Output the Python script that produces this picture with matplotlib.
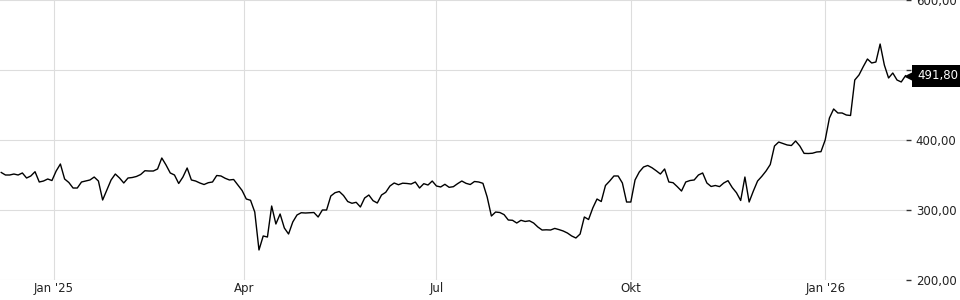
import numpy as np
import pandas as pd
import matplotlib
matplotlib.use('Agg')
import matplotlib.pyplot as plt
import matplotlib.transforms as mtransforms
from matplotlib.ticker import FuncFormatter

# Price series, one reading every second day starting 2024-12-07
start_date = '2024-12-07'
prices = [
    353.6, 350.0, 350.0, 351.4, 350.0, 352.9, 345.7, 348.6, 354.7, 340.0,
    341.4, 344.3, 342.1, 355.7, 365.7, 344.3, 339.3, 331.4, 331.4, 340.0,
    341.4, 342.9, 347.1, 341.4, 314.3, 328.6, 342.9, 351.4, 345.7, 338.6,
    345.7, 346.4, 347.9, 350.7, 356.1, 355.7, 355.7, 358.6, 374.3, 364.3,
    352.9, 350.0, 337.9, 347.1, 360.0, 342.9, 341.4, 338.6, 336.4, 339.0,
    340.0, 349.3, 348.6, 345.3, 342.9, 343.6, 335.7, 327.9, 315.7, 313.9,
    297.1, 242.9, 262.9, 261.4, 305.7, 280.0, 294.3, 274.3, 265.7, 282.9,
    292.9, 296.1, 295.7, 296.1, 296.4, 290.0, 300.0, 300.0, 320.0, 324.7,
    326.4, 320.7, 312.1, 309.6, 311.0, 304.3, 317.1, 321.4, 313.3, 310.0,
    321.4, 325.3, 334.3, 338.6, 336.1, 338.3, 337.9, 337.1, 340.0, 331.4,
    337.6, 335.7, 341.4, 334.3, 332.9, 336.7, 332.4, 333.3, 337.6, 341.4,
    338.1, 336.4, 340.7, 340.0, 338.1, 318.6, 291.4, 297.1, 296.4, 293.4,
    285.7, 285.3, 281.4, 285.3, 283.6, 284.6, 281.4, 275.7, 271.4, 271.7,
    271.4, 273.7, 272.0, 270.0, 267.1, 262.9, 260.0, 265.7, 290.0, 286.4,
    302.9, 315.7, 312.1, 335.0, 341.4, 348.6, 348.6, 338.6, 311.4, 311.4,
    342.9, 354.3, 361.4, 363.6, 360.4, 356.1, 351.4, 358.6, 340.0, 339.0,
    333.3, 327.1, 340.0, 342.1, 342.9, 350.0, 352.9, 338.6, 333.6, 335.0,
    333.4, 338.6, 341.9, 332.1, 324.7, 313.6, 347.1, 311.4, 327.1, 341.4,
    348.1, 355.7, 365.0, 391.4, 397.1, 395.0, 392.9, 392.1, 398.6, 391.4,
    380.9, 380.7, 381.1, 382.9, 383.3, 400.0, 431.4, 444.3, 438.6, 438.6,
    435.7, 435.0, 485.7, 492.9, 504.7, 515.7, 510.0, 511.4, 537.1, 507.1,
    488.6, 495.7, 485.7, 482.9, 491.8,
]
last_label = '491,80'

tick_dates = ['2025-01-01', '2025-04-01', '2025-07-01', '2025-10-01', '2026-01-01']
tick_labels = ["Jan '25", 'Apr', 'Jul', 'Okt', "Jan '26"]
y_ticks = [200, 300, 400, 500, 600]

dates = pd.date_range(start_date, periods=len(prices), freq='2D')

fig = plt.figure(figsize=(9.6, 3.0), dpi=100)
ax = fig.add_axes([0.0, 20 / 300, 906 / 960, 280 / 300])

ax.plot(dates, prices, color='black', linewidth=1.0, zorder=3)

ax.set_xlim(pd.Timestamp('2024-12-06 10:00'), pd.Timestamp('2026-02-08 06:00'))
ax.set_ylim(200, 600)

ax.set_xticks(pd.to_datetime(tick_dates))
ax.set_xticklabels(tick_labels)
ax.set_yticks(y_ticks)
ax.yaxis.set_major_formatter(FuncFormatter(lambda v, p: f'{v:.2f}'.replace('.', ',')))
ax.yaxis.tick_right()

ax.grid(True, color='#dddddd', linewidth=0.8)
for s in ax.spines.values():
    s.set_visible(False)

ax.tick_params(axis='x', length=0, pad=1.5, labelsize=8.5, labelcolor='#222222')
ax.tick_params(axis='y', length=3.6, width=1, color='#333333', pad=3.5,
               labelsize=8.5, labelcolor='#222222')

# last price tag
trans = mtransforms.blended_transform_factory(ax.transAxes, ax.transData)
tip = mtransforms.offset_copy(trans, fig=fig, x=6, y=0, units='dots')
ax.plot([1.0], [prices[-1]], marker='<', markersize=10, color='black',
        transform=tip, clip_on=False, zorder=10)
txt = mtransforms.offset_copy(trans, fig=fig, x=11, y=0, units='dots')
ax.text(1.0, prices[-1], last_label, transform=txt, ha='left', va='center',
        fontsize=8.5, color='white', clip_on=False, zorder=11,
        bbox=dict(boxstyle='square,pad=0.4', fc='black', ec='none'))

fig.savefig('out.png', dpi=100)
